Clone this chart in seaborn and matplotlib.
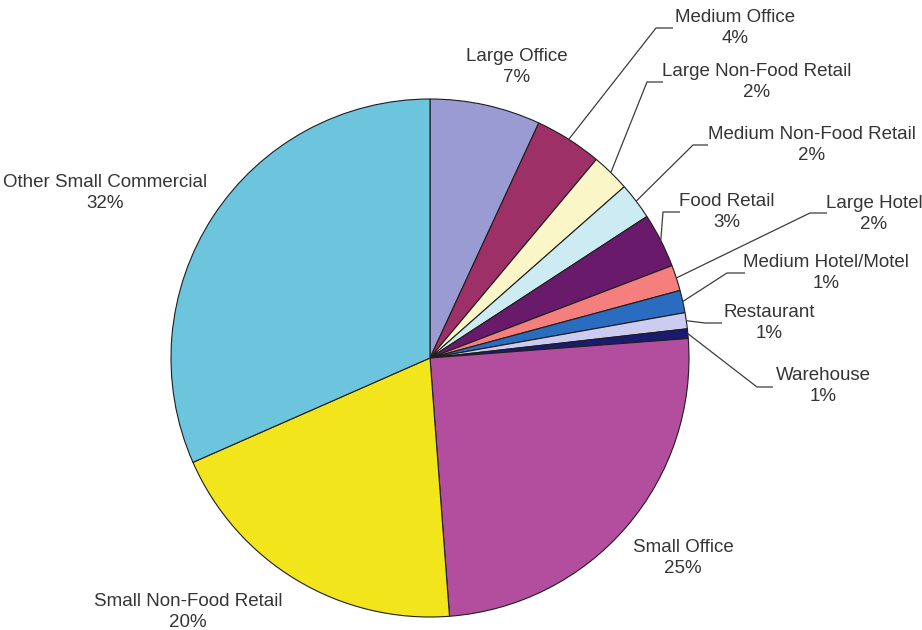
import matplotlib
matplotlib.use("Agg")
import numpy as np
import matplotlib.pyplot as plt
import seaborn as sns

# Share of floor space by building type (percent), clockwise from 12 o'clock
categories = [
    "Large Office", "Medium Office", "Large Non-Food Retail",
    "Medium Non-Food Retail", "Food Retail", "Large Hotel",
    "Medium Hotel/Motel", "Restaurant", "Warehouse",
    "Small Office", "Small Non-Food Retail", "Other Small Commercial",
]
shares = [6.9, 4.2, 2.4, 2.3, 3.4, 1.6, 1.4, 1.0, 0.6, 25.0, 19.6, 31.6]

slice_colors = [
    "#9b9bd3", "#9e3068", "#fbf6c8", "#cdebf2", "#6a1a6a", "#f47f7c",
    "#2a6cc0", "#ccccf0", "#1a1a70", "#b34d9e", "#f3e51c", "#6cc5dc",
]

# Label block centres (pixels, from top-left)
label_pos = [
    (517, 67), (735, 28), (757, 82), (812, 145), (727, 212), (874, 214),
    (826, 273), (769, 323), (823, 386), (683, 558), (188, 612), (105, 193),
]
# Leader-line elbow and end points (pixels); None where the label sits free
leader_pts = [
    None, [(656, 28), (673, 28)], [(647, 82), (663, 82)],
    [(693, 145), (708, 145)], [(663, 212), (680, 212)],
    [(810, 213), (827, 213)], [(727, 273), (745, 273)],
    [(705, 323), (722, 323)], [(757, 387), (773, 387)],
    None, None, None,
]

sns.set_theme(style="white")
plt.rcParams["font.family"] = ["Liberation Sans", "DejaVu Sans"]

W, H = 922, 630
fig = plt.figure(figsize=(W / 100, H / 100), dpi=100)
ax = fig.add_axes([0, 0, 1, 1])

cx, cy, r = 430, H - 358, 259
wedges, _ = ax.pie(
    shares, colors=slice_colors, startangle=90, counterclock=False,
    center=(cx, cy), radius=r,
    wedgeprops=dict(edgecolor="#1e1e1e", linewidth=0.8),
)
ax.set_xlim(0, W)
ax.set_ylim(0, H)
ax.set_aspect("equal")
ax.axis("off")

text_color = "#353535"
cum = np.cumsum([0] + shares[:-1])
for i, (name, val) in enumerate(zip(categories, shares)):
    lx, ly = label_pos[i]
    ax.text(lx, H - ly, f"{name}\n{val:.0f}%", ha="center", va="center",
            fontsize=13.5, color=text_color, linespacing=1.35)
    pts = leader_pts[i]
    if pts is not None:
        mid = np.deg2rad((cum[i] + val / 2) / 100 * 360)
        sx, sy = cx + r * np.sin(mid), cy + r * np.cos(mid)
        xs = [sx] + [p[0] for p in pts]
        ys = [sy] + [H - p[1] for p in pts]
        ax.plot(xs, ys, color="#3c3c3c", lw=0.9, solid_capstyle="butt")

fig.savefig("out.png", dpi=100)
